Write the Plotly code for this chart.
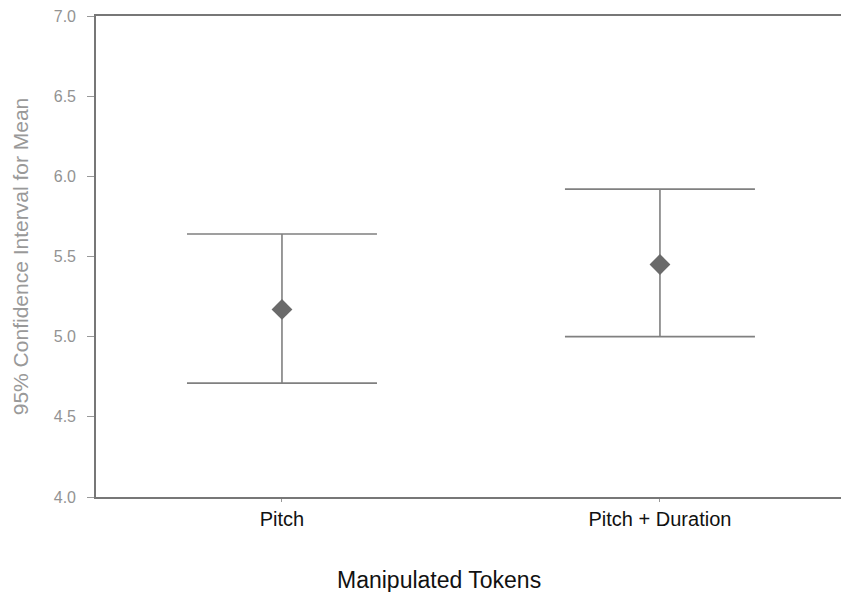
import plotly.graph_objects as go

# Manipulated token conditions and 95% CI of the mean
categories = ["Pitch", "Pitch + Duration"]
means = [5.17, 5.45]
ci_upper = [5.64, 5.92]
ci_lower = [4.71, 5.00]

y_ticks = [4.0, 4.5, 5.0, 5.5, 6.0, 6.5, 7.0]
y_tick_labels = ["4.0", "4.5", "5.0", "5.5", "6.0", "6.5", "7.0"]

x_pos = list(range(len(categories)))
err_plus = [u - m for u, m in zip(ci_upper, means)]
err_minus = [m - l for m, l in zip(means, ci_lower)]

FONT = "Liberation Sans, Arial, sans-serif"
LINE = "#808080"

fig = go.Figure()
fig.add_trace(go.Scatter(
    x=x_pos,
    y=means,
    mode="markers",
    marker=dict(symbol="diamond", size=16, color="#6a6a6a",
                line=dict(width=0)),
    error_y=dict(type="data", symmetric=False, array=err_plus,
                 arrayminus=err_minus, color=LINE, thickness=1.6, width=95),
    showlegend=False,
    hoverinfo="skip",
))

fig.update_layout(
    width=841,
    height=592,
    margin=dict(l=96, r=0, t=16, b=95),
    paper_bgcolor="white",
    plot_bgcolor="white",
    font=dict(family=FONT),
    xaxis=dict(
        range=[-0.492, 1.479],
        tickmode="array",
        tickvals=x_pos,
        ticktext=categories,
        tickfont=dict(size=20, color="#111111", family=FONT),
        showgrid=False,
        zeroline=False,
        showline=True,
        linecolor="#777777",
        linewidth=1.6,
        mirror=True,
        ticks="outside",
        ticklen=3,
        tickcolor="#999999",
    ),
    yaxis=dict(
        range=[4.0, 7.0],
        tickmode="array",
        tickvals=y_ticks,
        ticktext=y_tick_labels,
        tickfont=dict(size=16, color="#939393", family=FONT),
        showgrid=False,
        zeroline=False,
        showline=True,
        linecolor="#777777",
        linewidth=1.6,
        ticks="outside",
        ticklen=7,
        tickcolor="#999999",
        ticklabelstandoff=8,
    ),
    annotations=[
        dict(
            text="95% Confidence Interval for Mean",
            xref="paper", yref="paper",
            x=-0.101, y=0.5,
            xanchor="center", yanchor="middle",
            textangle=-90,
            showarrow=False,
            font=dict(size=21, color="#999999", family=FONT),
        ),
        dict(
            text="Manipulated Tokens",
            xref="paper", yref="paper",
            x=0.46, y=-0.172,
            xanchor="center", yanchor="middle",
            showarrow=False,
            font=dict(size=23, color="#111111", family=FONT),
        ),
    ],
)

fig.write_html("out.html")
